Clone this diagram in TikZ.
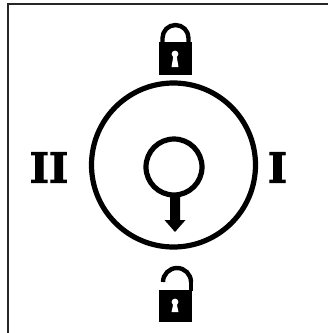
\documentclass[tikz,border=0pt]{standalone}
\usepackage{fontspec}
\newfontfamily\numfont[FakeBold=2.2]{DejaVu Serif Bold}
\tikzset{
  px/.style={x=0.75pt,y=-0.75pt},
  ring/.style={draw=black,line width=3.9pt,fill=none},
  numeral/.style={font=\numfont\fontsize{31}{31}\selectfont,inner sep=0pt,text=black},
  shackle/.style={draw=black,line width=3.3pt,line cap=butt},
  lockbody/.style={fill=black,draw=none},
  keyhole/.style={fill=white,draw=none}
}
\begin{document}
\begin{tikzpicture}[px]
\useasboundingbox (0,0) rectangle (328,333);
\draw[line width=0.9pt,draw=black!85] (8,333) -- (8,4) -- (328,4);
\node[ring,circle,minimum size=123pt,inner sep=0pt] (outer) at (173.5,165) {};
\node[ring,circle,minimum size=42pt,inner sep=0pt] (inner) at (174,167) {};
\coordinate (tip) at (175,232);
\fill[black] (170,196) -- (180,196) -- (180,220) -- (185.5,220) -- (tip) -- (164.5,220) -- (170,220) -- cycle;
\node[numeral] (two) at (49,167.5) {II};
\node[numeral] (one) at (277.5,167.5) {I};
% closed lock
\draw[shackle] (162.5,43) -- (162.5,38) arc[start angle=180,end angle=0,x radius=13,y radius=-13] -- (188.5,43);
\fill[lockbody] (159,42) rectangle (192,75);
\fill[keyhole] (175,54) circle[radius=3.4];
\fill[keyhole] (173.5,55) -- (176.5,55) -- (178.5,67) -- (171.5,67) -- cycle;
% open lock
\draw[shackle] (163,282) arc[start angle=180,end angle=0,x radius=14,y radius=-14];
\draw[shackle] (191,282) -- (191,291);
\fill[lockbody] (159,290) rectangle (192,322);
\fill[keyhole] (175,302) circle[radius=3.4];
\fill[keyhole] (173.5,303) -- (176.5,303) -- (178.5,312) -- (171.5,312) -- cycle;
\end{tikzpicture}
\end{document}
